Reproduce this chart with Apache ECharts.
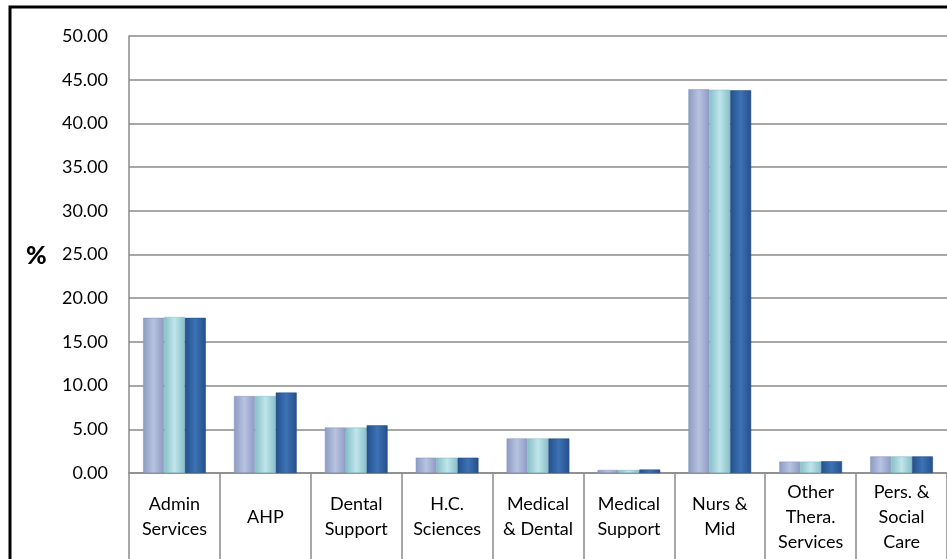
<!DOCTYPE html>
<html><head><meta charset="utf-8">
<script src="https://cdn.jsdelivr.net/npm/echarts@6/dist/echarts.min.js"></script>
<style>html,body{margin:0;padding:0;background:#fff}#c{width:947px;height:559px}</style>
</head><body><div id="c"></div>
<script>
const categories = ['Admin\nServices','AHP','Dental\nSupport','H.C.\nSciences','Medical\n& Dental','Medical\nSupport','Nurs &\nMid','Other\nThera.\nServices','Pers. &\nSocial\nCare'];
const series1 = [17.75, 8.8, 5.2, 1.75, 3.95, 0.35, 43.9, 1.3, 1.9];
const series2 = [17.85, 8.8, 5.2, 1.75, 3.95, 0.35, 43.85, 1.3, 1.9];
const series3 = [17.75, 9.2, 5.45, 1.75, 3.95, 0.4, 43.8, 1.35, 1.9];
const yTicks = { min: 0, max: 50, interval: 5 };

function grad(edge, mid){
  return new echarts.graphic.LinearGradient(0,0,1,0,[
    {offset:0,color:edge},{offset:0.5,color:mid},{offset:1,color:edge}
  ]);
}
const font = 'Lato, "Open Sans", sans-serif';
const chart = echarts.init(document.getElementById('c'), null, {renderer:'canvas'});
chart.setOption({
  animation:false,
  backgroundColor:'#fff',
  grid:{left:129, top:36, width:825, height:437, containLabel:false},
  xAxis:{
    type:'category', data:categories,
    axisLine:{lineStyle:{color:'#8a8a8a', width:1.5}},
    axisTick:{show:true, length:86, lineStyle:{color:'#8a8a8a', width:1.5}},
    axisLabel:{interval:0, margin:44, verticalAlign:'middle', color:'#000', fontSize:18, lineHeight:25, fontFamily:font}
  },
  yAxis:{
    type:'value', min:yTicks.min, max:yTicks.max, interval:yTicks.interval,
    axisLine:{show:true, lineStyle:{color:'#8a8a8a', width:1.5}},
    axisTick:{show:false},
    splitLine:{lineStyle:{color:'#8a8a8a', width:1.5}},
    axisLabel:{margin:21, color:'#000', fontSize:18, fontFamily:font, formatter:v=>v.toFixed(2)}
  },
  graphic:[
    {type:'rect', shape:{x:10, y:7, width:960, height:570}, style:{fill:'none', stroke:'#000', lineWidth:3}, z:100},
    {type:'text', left:26, top:243, style:{text:'%', font:'900 25px '+font, fill:'#000'}, z:100}
  ],
  series:[
    {type:'bar', data:series1, barGap:'0%', barCategoryGap:'31%', itemStyle:{color:grad('#8d9bc3','#b8c3e0'), borderColor:'#8593ba', borderWidth:0.5}},
    {type:'bar', data:series2, itemStyle:{color:grad('#88bfc9','#bfe5ea'), borderColor:'#80b7c1', borderWidth:0.5}},
    {type:'bar', data:series3, itemStyle:{color:grad('#24508c','#3d72b4'), borderColor:'#21497f', borderWidth:0.5}}
  ]
});
</script></body></html>
